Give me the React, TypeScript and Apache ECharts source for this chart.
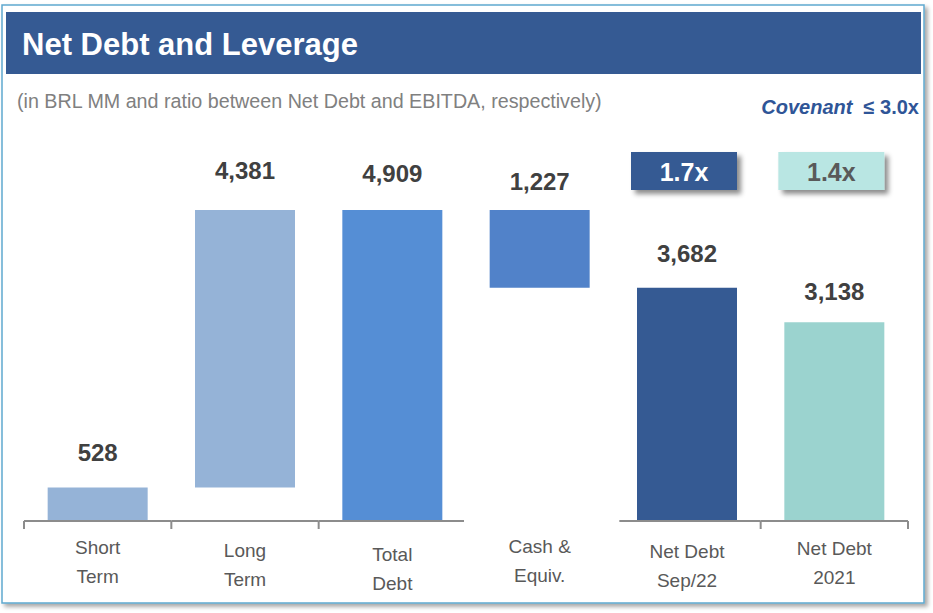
import React, { useEffect, useRef } from "react";
import * as echarts from "echarts";

const categories = ["Short\nTerm", "Long\nTerm", "Total\nDebt", "Cash &\nEquiv.", "Net Debt\nSep/22", "Net Debt\n2021"];
const values = [528, 4381, 4909, 1227, 3682, 3138];
const bases = [0, 528, 0, 3682, 0, 0];
const ratioIndex = [4, 5];
const ratios = [1.7, 1.4];
const axisSegments = [0, 1, 2, 4, 5];

const title = "Net Debt and Leverage";
const subtitle = "(in BRL MM and ratio between Net Debt and EBITDA, respectively)";

const barColors = ["#95b3d7", "#95b3d7", "#558ed5", "#5182c9", "#355a93", "#9bd3cf"];
const labelDistance = [23, 28, 25, 17, 22, 19];
const labelPad = [1, 4, 8, 0, 5, 2];
const NARROW = "'Liberation Sans Narrow', 'Arial Narrow', 'Liberation Sans', Arial, sans-serif";

export default function App() {
  const ref = useRef<HTMLDivElement>(null);
  useEffect(() => {
    const chart = echarts.init(ref.current!, null, { renderer: "svg" });
    const option: any = {
      animation: false,
      backgroundColor: "#ffffff",
      grid: { left: 24, right: 25, top: 210, bottom: 92 },
      xAxis: {
        type: "category",
        data: categories.map((c, i) => ({ value: c, textStyle: { padding: [labelPad[i], 0, 0, 0] } })),
        axisLine: { show: false },
        axisTick: { show: false },
        axisLabel: {
          interval: 0,
          margin: 11,
          fontFamily: NARROW,
          fontSize: 19,
          lineHeight: 29,
          color: "#595959",
        },
      },
      yAxis: { type: "value", min: 0, max: 4909, show: false, splitLine: { show: false } },
      graphic: [
        {
          type: "rect",
          z: -10,
          shape: { x: 2, y: 5, width: 922, height: 598 },
          style: {
            fill: "#ffffff",
            stroke: "#5fa9cf",
            lineWidth: 1.5,
            shadowColor: "rgba(0,0,0,0.35)",
            shadowBlur: 4,
            shadowOffsetX: 3,
            shadowOffsetY: 3,
          },
        },
        { type: "rect", shape: { x: 6, y: 12, width: 915, height: 62 }, style: { fill: "#355a93" } },
        {
          type: "text",
          x: 22,
          y: 44,
          style: {
            text: title,
            fill: "#ffffff",
            font: `bold 31px ${NARROW}`,
            verticalAlign: "middle",
          },
        },
        {
          type: "text",
          x: 17,
          y: 101,
          style: {
            text: subtitle,
            fill: "#808080",
            font: `19.7px ${NARROW}`,
            verticalAlign: "middle",
          },
        },
        {
          type: "text",
          x: 919,
          y: 107,
          style: {
            text: "{a|Covenant}{b|  ≤ 3.0x}",
            align: "right",
            verticalAlign: "middle",
            rich: {
              a: { fontFamily: NARROW, fontSize: 20, fontWeight: "bold", fontStyle: "italic", fill: "#2f5597", color: "#2f5597" },
              b: { fontFamily: NARROW, fontSize: 20, fontWeight: "bold", fill: "#2f5597", color: "#2f5597" },
            },
          },
        },
      ],
      series: [
        {
          type: "bar",
          stack: "w",
          data: bases,
          barWidth: 100,
          itemStyle: { color: "transparent" },
          silent: true,
        },
        {
          type: "bar",
          stack: "w",
          barWidth: 100,
          data: values.map((v, i) => ({
            value: v,
            itemStyle: { color: barColors[i] },
            label: { distance: labelDistance[i] },
          })),
          label: {
            show: true,
            position: "top",
            fontFamily: NARROW,
            fontSize: 24,
            fontWeight: "bold",
            color: "#404040",
            formatter: (p: any) => p.value.toLocaleString("en-US"),
          },
        },
        {
          type: "custom",
          silent: true,
          z: 5,
          data: axisSegments.map((i) => [i]),
          renderItem: (params: any, api: any) => {
            const idx = api.value(0);
            const c = api.coord([idx, 0]);
            const bw = api.size([1, 0])[0];
            const x0 = c[0] - bw / 2;
            const x1 = c[0] + bw / 2;
            const y = c[1];
            const st = { stroke: "#8c8c8c", lineWidth: 2 };
            const children: any[] = [
              { type: "line", shape: { x1: idx === 4 ? x0 + 6 : x0, y1: y, x2: idx === 2 ? x1 - 2 : x1, y2: y }, style: st },
            ];
            if (idx !== 4) children.push({ type: "line", shape: { x1: x0, y1: y, x2: x0, y2: y + 8 }, style: st });
            if (idx === 5) children.push({ type: "line", shape: { x1: x1, y1: y, x2: x1, y2: y + 8 }, style: st });
            return { type: "group", children };
          },
        },
        {
          type: "custom",
          silent: true,
          z: 5,
          data: ratioIndex.map((i, k) => [i, ratios[k]]),
          renderItem: (params: any, api: any) => {
            const idx = api.value(0);
            const r = api.value(1);
            const c = api.coord([idx, 0]);
            const dark = params.dataIndex === 0;
            const cx = c[0] - 3;
            return {
              type: "group",
              children: [
                {
                  type: "rect",
                  shape: { x: cx - 53, y: 152, width: 106, height: 38 },
                  style: {
                    fill: dark ? "#355a93" : "#b9e6e3",
                    shadowColor: "rgba(0,0,0,0.45)",
                    shadowBlur: 5,
                    shadowOffsetX: 4,
                    shadowOffsetY: 4,
                  },
                },
                {
                  type: "text",
                  x: cx,
                  y: 172,
                  style: {
                    text: r.toFixed(1) + "x",
                    align: "center",
                    verticalAlign: "middle",
                    font: `bold 25px ${NARROW}`,
                    fill: dark ? "#ffffff" : "#595959",
                  },
                },
              ],
            };
          },
        },
      ],
    };
    chart.setOption(option);
    return () => chart.dispose();
  }, []);
  return (
    <div
      ref={ref}
      style={{ position: "fixed", left: 0, top: 0, width: 933, height: 613 }}
    />
  );
}
